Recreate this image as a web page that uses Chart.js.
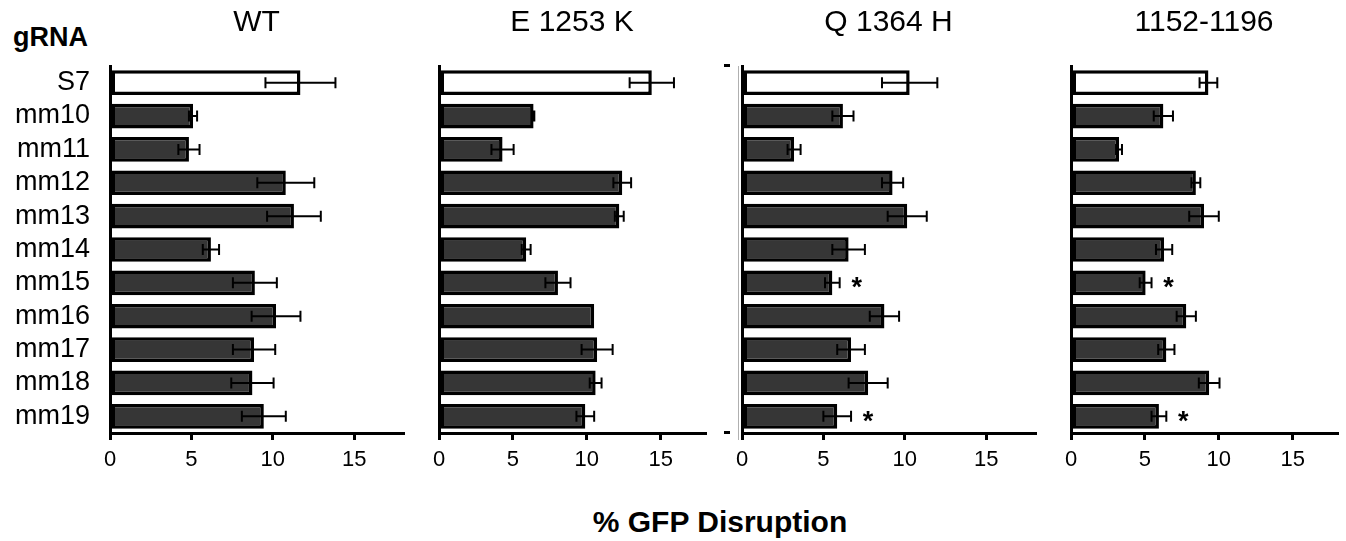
<!DOCTYPE html>
<html>
<head>
<meta charset="utf-8">
<script src="https://cdn.jsdelivr.net/npm/chart.js@4/dist/chart.umd.min.js"></script>
<style>
  html, body { margin: 0; padding: 0; background: #fff; }
  #wrap { position: relative; width: 1346px; height: 541px; overflow: hidden; font-family: 'Liberation Sans', Arial, sans-serif; }
  canvas { position: absolute; top: 0; }
  .lbl { position: absolute; font-weight: bold; color: #000; white-space: nowrap; }
</style>
</head>
<body>
<div id="wrap">
  <div class="lbl" style="left:13px; top:22px; font-size:27px;">gRNA</div>
  <canvas id="p1" width="420" height="480" style="left:0px"></canvas>
  <canvas id="p2" width="300" height="480" style="left:420px"></canvas>
  <canvas id="p3" width="320" height="480" style="left:720px"></canvas>
  <canvas id="p4" width="306" height="480" style="left:1040px"></canvas>
  <div class="lbl" style="left:0; width:1440px; text-align:center; top:505px; font-size:30px;">% GFP Disruption</div>
</div>
<script>
// gRNA rows, top to bottom
const categories = ['S7', 'mm10', 'mm11', 'mm12', 'mm13', 'mm14', 'mm15', 'mm16', 'mm17', 'mm18', 'mm19'];
const panelTitles = ['WT', 'E 1253 K', 'Q 1364 H', '1152-1196'];
const xTicks = [0, 5, 10, 15];
const xMax = 18;

// % GFP disruption, mean and error per gRNA
const wtValues = [11.7, 5.1, 4.85, 10.8, 11.3, 6.2, 8.9, 10.2, 8.85, 8.75, 9.45];
const wtErrors = [2.15, 0.25, 0.65, 1.75, 1.65, 0.5, 1.35, 1.5, 1.3, 1.3, 1.35];

const e1253kValues = [14.4, 6.4, 4.3, 12.4, 12.2, 5.9, 8.05, 10.5, 10.7, 10.6, 9.9];
const e1253kErrors = [1.5, 0.05, 0.75, 0.6, 0.3, 0.3, 0.85, 0, 1.05, 0.4, 0.6];

const q1364hValues = [10.3, 6.2, 3.2, 9.25, 10.15, 6.55, 5.55, 8.75, 6.7, 7.75, 5.85];
const q1364hErrors = [1.7, 0.65, 0.4, 0.65, 1.2, 1.0, 0.45, 0.9, 0.85, 1.2, 0.85];
const q1364hStars = ['mm15', 'mm19'];

const del1152Values = [9.3, 6.25, 3.25, 8.45, 9.0, 6.3, 5.05, 7.8, 6.45, 9.35, 5.95];
const del1152Errors = [0.6, 0.65, 0.2, 0.3, 1.0, 0.55, 0.4, 0.65, 0.55, 0.7, 0.5];
const del1152Stars = ['mm15', 'mm19'];

const FONT = "'Liberation Sans', Arial, sans-serif";
const barFill = '#363636';

// error bars, significance stars and the panel title
const panelExtras = {
    id: 'panelExtras',
    afterDatasetsDraw(chart) {
        const ctx = chart.ctx;
        const xs = chart.scales.x;
        const ys = chart.scales.y;
        const ds = chart.data.datasets[0];
        ctx.save();
        ctx.strokeStyle = '#000';
        ctx.lineWidth = 2;
        ds.data.forEach((v, i) => {
            const e = ds.errors[i];
            if (!e) return;
            const y = ys.getPixelForValue(i);
            const x1 = xs.getPixelForValue(v - e);
            const x2 = xs.getPixelForValue(v + e);
            ctx.beginPath();
            ctx.moveTo(x1, y); ctx.lineTo(x2, y);
            ctx.moveTo(x1, y - 5.5); ctx.lineTo(x1, y + 5.5);
            ctx.moveTo(x2, y - 5.5); ctx.lineTo(x2, y + 5.5);
            ctx.stroke();
        });
        ctx.fillStyle = '#000';
        ctx.font = 'bold 27px ' + FONT;
        ctx.textAlign = 'center';
        ctx.textBaseline = 'middle';
        (ds.stars || []).forEach(name => {
            const i = categories.indexOf(name);
            const x = xs.getPixelForValue(ds.data[i] + ds.errors[i]) + 17;
            ctx.fillText('*', x, ys.getPixelForValue(i) + 6);
        });
        ctx.font = '30px ' + FONT;
        ctx.fillText(chart.options.panelTitle, (chart.chartArea.left + chart.chartArea.right) / 2, 23);
        ctx.restore();
    }
};

// stray marks that sit left of the third panel in the original figure
const strayMarks = {
    id: 'strayMarks',
    afterDraw(chart) {
        if (!chart.options.strayMarks) return;
        const ctx = chart.ctx;
        ctx.save();
        ctx.fillStyle = '#000';
        ctx.fillRect(4, 64, 6, 3);
        ctx.fillRect(4, 431, 6, 3);
        ctx.strokeStyle = '#b0b0b0';
        ctx.lineWidth = 1;
        ctx.beginPath();
        ctx.moveTo(18.5, 66); ctx.lineTo(18.5, 440);
        ctx.stroke();
        ctx.restore();
    }
};

function makePanel(id, title, values, errors, stars, padLeft, yWidth, padRight, showLabels, stray) {
    const ctx = document.getElementById(id).getContext('2d');
    return new Chart(ctx, {
        type: 'bar',
        data: {
            labels: categories,
            datasets: [{
                data: values,
                errors: errors,
                stars: stars,
                backgroundColor: categories.map((c, i) => i === 0 ? '#ffffff' : barFill),
                borderColor: '#000',
                borderWidth: 3.5,
                borderSkipped: false,
                barPercentage: 0.74,
                categoryPercentage: 1
            }]
        },
        plugins: [panelExtras, strayMarks],
        options: {
            panelTitle: title,
            strayMarks: stray,
            indexAxis: 'y',
            responsive: false,
            animation: false,
            devicePixelRatio: 1,
            layout: { padding: { top: 66, left: padLeft, right: padRight, bottom: 0 } },
            plugins: { legend: { display: false }, tooltip: { enabled: false }, title: { display: false } },
            scales: {
                x: {
                    type: 'linear',
                    min: 0,
                    max: xMax,
                    afterBuildTicks: s => { s.ticks = xTicks.map(v => ({ value: v })); },
                    afterFit: s => { s.height = 47; },
                    grid: { display: true, drawOnChartArea: false, drawTicks: true, tickLength: 7, lineWidth: 3, color: '#000' },
                    border: { display: true, width: 3, color: '#000' },
                    ticks: { color: '#000', font: { family: FONT, size: 22 }, padding: 7, maxRotation: 0 }
                },
                y: {
                    type: 'category',
                    offset: true,
                    afterFit: s => { s.width = yWidth; },
                    grid: { display: false, drawTicks: false },
                    border: { display: true, width: 3, color: '#000' },
                    ticks: { display: showLabels, autoSkip: false, color: '#000', font: { family: FONT, size: 27 }, padding: 20 }
                }
            }
        }
    });
}

makePanel('p1', panelTitles[0], wtValues, wtErrors, [], 0, 110, 17, true, false);
makePanel('p2', panelTitles[1], e1253kValues, e1253kErrors, [], 19, 0, 15, false, false);
makePanel('p3', panelTitles[2], q1364hValues, q1364hErrors, q1364hStars, 22, 0, 5, false, true);
makePanel('p4', panelTitles[3], del1152Values, del1152Errors, del1152Stars, 31, 0, 9, false, false);
</script>
</body>
</html>
